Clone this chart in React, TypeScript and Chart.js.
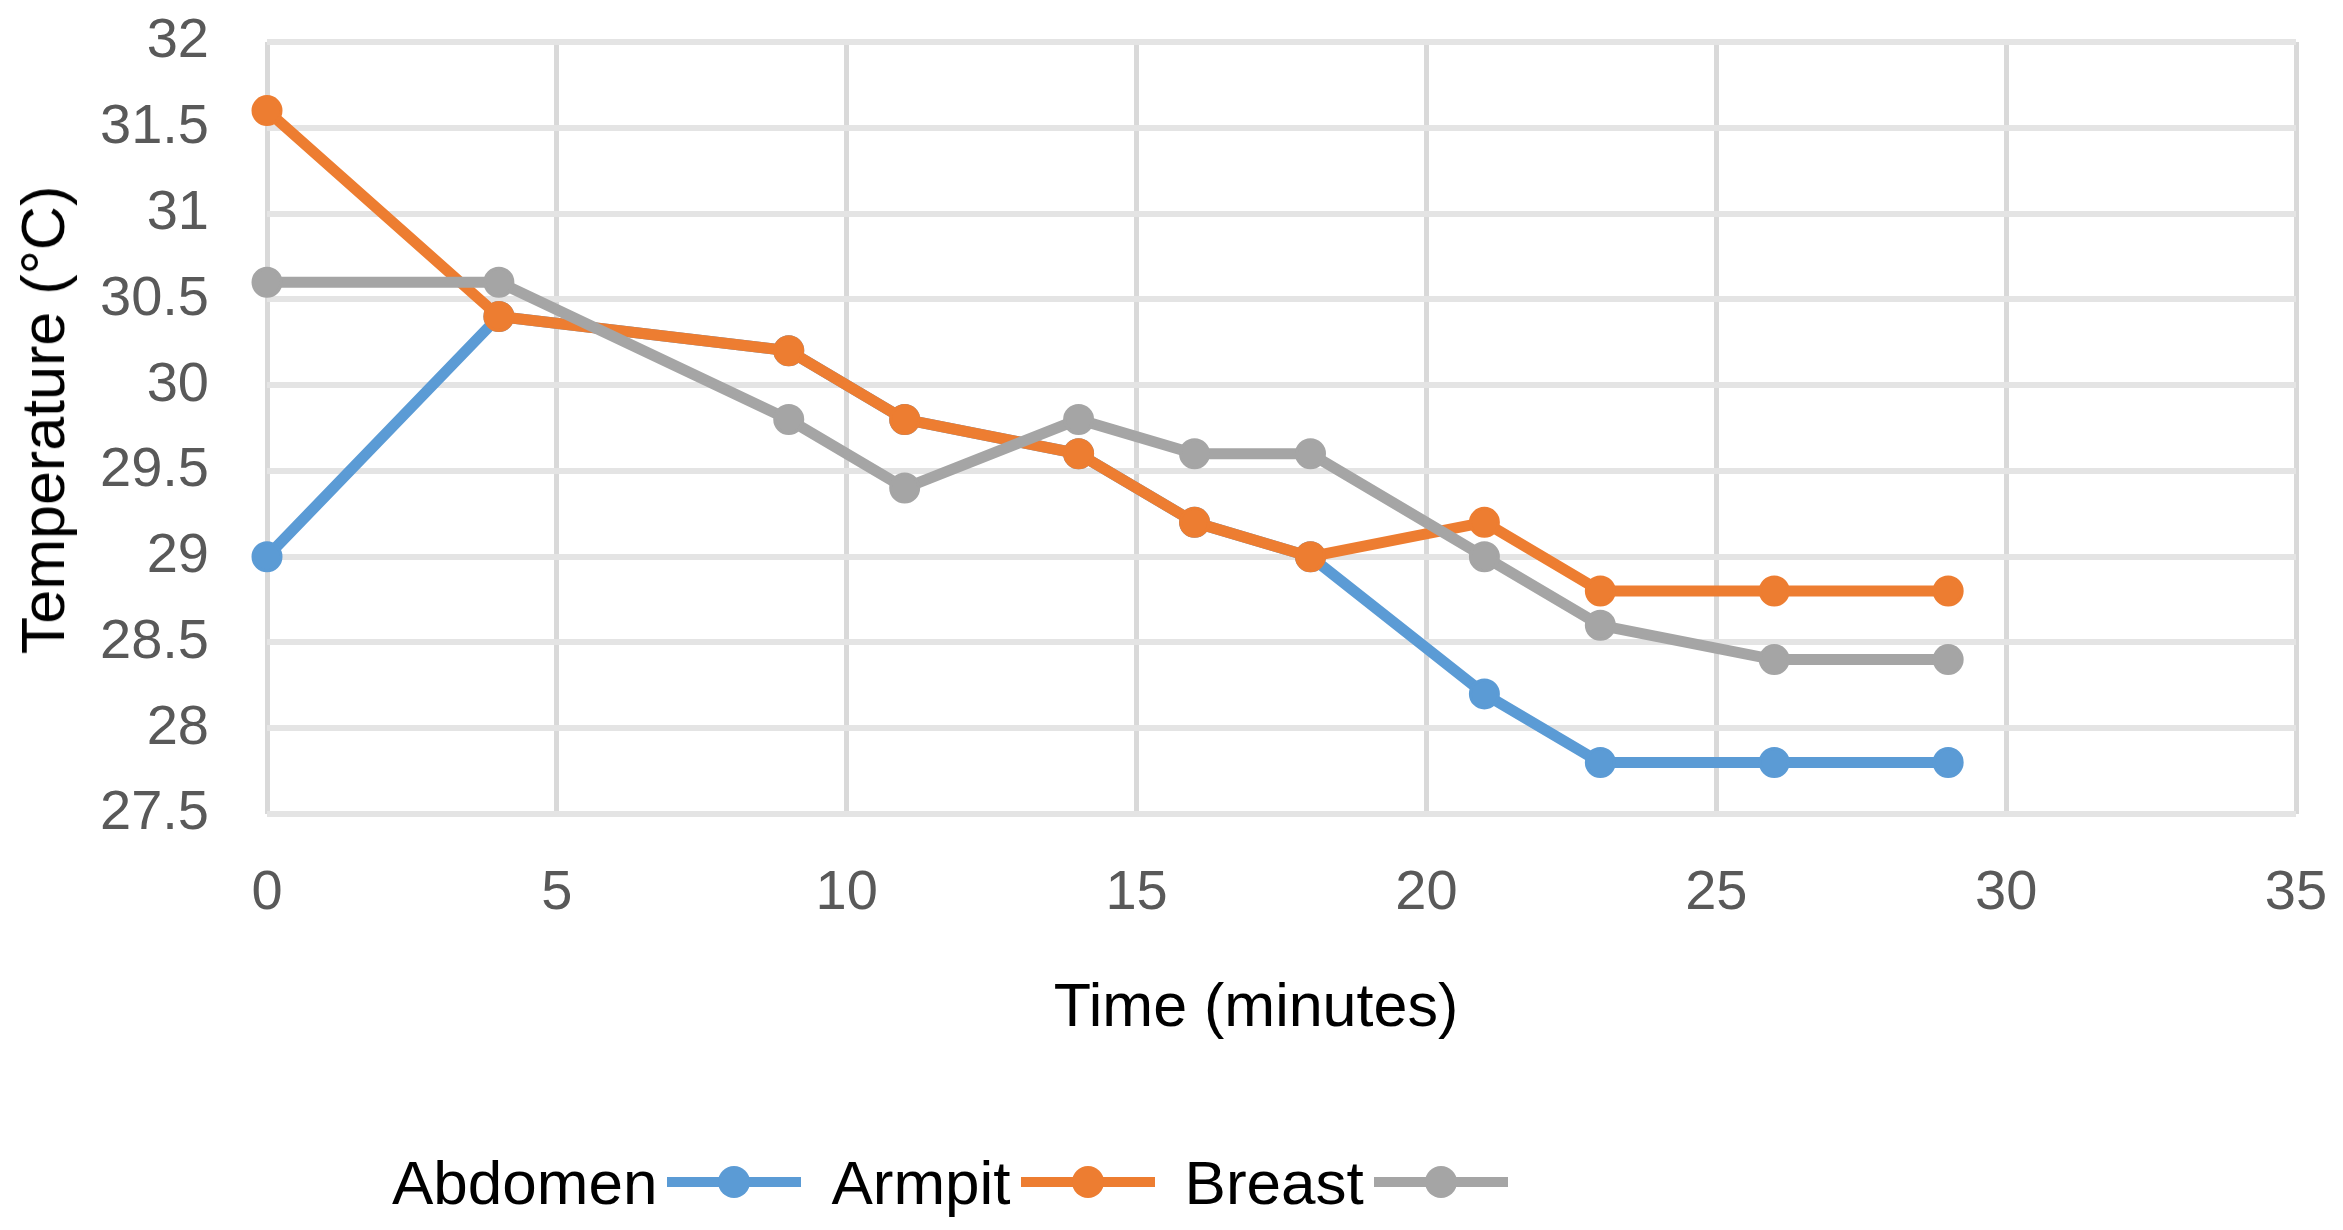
import React, { useEffect, useRef } from "react";
import { Chart, registerables } from "chart.js";

Chart.register(...registerables);

// ---- data ----
const timeMinutes = [0, 4, 9, 11, 14, 16, 18, 21, 23, 26, 29];
const abdomenTemps = [29.0, 30.4, 30.2, 29.8, 29.6, 29.2, 29.0, 28.2, 27.8, 27.8, 27.8];
const armpitTemps = [31.6, 30.4, 30.2, 29.8, 29.6, 29.2, 29.0, 29.2, 28.8, 28.8, 28.8];
const breastTemps = [30.6, 30.6, 29.8, 29.4, 29.8, 29.6, 29.6, 29.0, 28.6, 28.4, 28.4];
const seriesNames = ["Abdomen", "Armpit", "Breast"];
const seriesColors = ["#5b9bd5", "#ed7d31", "#a5a5a5"];
const xTickValues = [0, 5, 10, 15, 20, 25, 30, 35];
const yTickValues = [27.5, 28, 28.5, 29, 29.5, 30, 30.5, 31, 31.5, 32];
const xTitle = "Time (minutes)";
const yTitle = "Temperature (°C)";

const FONT = '"Liberation Sans", Arial, sans-serif';
const W = 2343;
const H = 1230;

export default function App() {
  const canvasRef = useRef<HTMLCanvasElement | null>(null);

  useEffect(() => {
    document.body.style.margin = "0";
    document.body.style.overflow = "hidden";
    const canvas = canvasRef.current;
    if (!canvas) return;
    const seriesValues = [abdomenTemps, armpitTemps, breastTemps];
    const chart = new Chart(canvas, {
      type: "line",
      data: {
        datasets: seriesValues.map((vals, i) => ({
          label: seriesNames[i],
          data: vals.map((y, j) => ({ x: timeMinutes[j], y })),
          borderColor: seriesColors[i],
          backgroundColor: seriesColors[i],
          pointBackgroundColor: seriesColors[i],
          pointBorderColor: seriesColors[i],
          borderWidth: 11,
          pointRadius: 14,
          pointBorderWidth: 3,
          borderJoinStyle: "round" as const,
          borderCapStyle: "round" as const,
          tension: 0,
          fill: false,
          clip: false as any,
          order: seriesValues.length - i,
        })),
      },
      options: {
        responsive: false,
        animation: false,
        devicePixelRatio: 1,
        layout: { padding: { left: 0, top: 42, right: 47, bottom: 150 } },
        plugins: {
          legend: { display: false },
          tooltip: { enabled: false },
        },
        scales: {
          x: {
            type: "linear",
            min: 0,
            max: 35,
            afterBuildTicks: (s: any) => {
              s.ticks = xTickValues.map((v) => ({ value: v }));
            },
            afterFit: (s: any) => {
              s.height = 266;
              s.paddingLeft = 0;
              s.paddingRight = 0;
            },
            ticks: {
              font: { family: FONT, size: 56 },
              color: "#595959",
              padding: 46,
              maxRotation: 0,
              autoSkip: false,
              callback: (v: any) => String(v),
            },
            grid: { color: "#d9d9d9", lineWidth: 5, drawTicks: false },
            border: { display: false },
            title: { display: false },
          },
          y: {
            type: "linear",
            min: 27.5,
            max: 32,
            afterBuildTicks: (s: any) => {
              s.ticks = yTickValues.map((v) => ({ value: v }));
            },
            afterFit: (s: any) => {
              s.width = 267;
              s.paddingTop = 0;
              s.paddingBottom = 0;
            },
            ticks: {
              font: { family: FONT, size: 56 },
              color: "#595959",
              padding: 58,
              autoSkip: false,
              callback: (v: any) => String(v),
            },
            grid: { color: "#e4e4e4", lineWidth: 6, drawTicks: false },
            border: { display: false },
            title: { display: false },
          },
        },
      },
    });
    return () => chart.destroy();
  }, []);

  const titleStyle: React.CSSProperties = {
    position: "absolute",
    fontFamily: FONT,
    fontSize: 61,
    lineHeight: "72px",
    color: "#000",
    whiteSpace: "nowrap",
  };

  return (
    <div style={{ position: "relative", width: W, height: H, background: "#fff" }}>
      <canvas ref={canvasRef} width={W} height={H} style={{ display: "block" }} />
      <div style={{ ...titleStyle, left: 1256, top: 1005, transform: "translate(-50%, -50%)" }}>{xTitle}</div>
      <div
        style={{
          ...titleStyle,
          left: 43,
          top: 420,
          transform: "translate(-50%, -50%) rotate(-90deg)",
        }}
      >
        {yTitle}
      </div>
      <div
        style={{
          position: "absolute",
          left: 392,
          top: 1147,
          height: 70,
          display: "flex",
          alignItems: "center",
          fontFamily: FONT,
          fontSize: 62,
          color: "#000",
          whiteSpace: "nowrap",
        }}
      >
        {seriesNames.map((name, i) => (
          <div key={name} style={{ display: "flex", alignItems: "center", marginLeft: i === 0 ? 0 : 30 }}>
            <span>{name}</span>
            <div style={{ position: "relative", width: 134, height: 32, marginLeft: 10 }}>
              <div
                style={{
                  position: "absolute",
                  left: 0,
                  right: 0,
                  top: 11,
                  height: 10,
                  background: seriesColors[i],
                }}
              />
              <div
                style={{
                  position: "absolute",
                  left: 51,
                  top: 0,
                  width: 32,
                  height: 32,
                  borderRadius: "50%",
                  background: seriesColors[i],
                }}
              />
            </div>
          </div>
        ))}
      </div>
    </div>
  );
}
